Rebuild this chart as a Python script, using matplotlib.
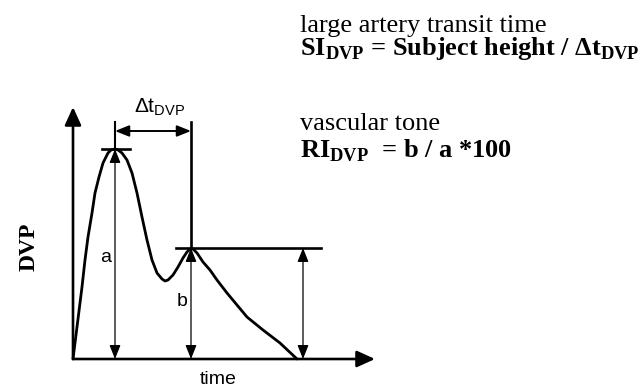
#!/usr/bin/env python3
"""DVP pulse waveform schematic with SI / RI definitions."""

import matplotlib

matplotlib.use("Agg")
import matplotlib.pyplot as plt

# digital volume pulse (time, amplitude)
curve_t = [0, 9, 12, 15, 19, 22, 26, 30, 35, 38, 42, 45, 49, 54, 59, 64, 69, 74, 79, 84,
           89, 92, 95, 100, 105, 110, 114, 117, 120, 124, 130, 137, 144, 154, 164, 174,
           190, 207, 224]
curve_v = [0, 72, 99, 122, 146, 166, 182, 196, 206, 209, 210, 209, 206, 199, 186, 166, 142,
           119, 99, 86, 80, 78, 79, 84, 92, 101, 107, 110, 110, 106, 97, 89, 79, 66, 54, 42,
           29, 16, 0]

peak_a = (42, 210)      # systolic peak
peak_b = (118, 111)     # diastolic peak / inflection
axis_top = 252
axis_right = 302
dt_level = 228
bracket_top = 237

SANS = "Liberation Sans"
SERIF = "Liberation Serif"


def arrow(ax, p0, p1, style, lw, scale):
    ax.annotate("", xy=p1, xytext=p0,
                arrowprops=dict(arrowstyle=style, lw=lw, color="black", fc="black",
                                shrinkA=0, shrinkB=0, mutation_scale=scale))


def main():
    fig = plt.figure(figsize=(6.44, 3.87), dpi=100)
    ax = fig.add_axes([0, 0, 1, 1])
    ax.set_xlim(-73, 571)
    ax.set_ylim(-28, 359)
    ax.axis("off")

    thick = 1.9
    thin = 0.9
    head_big = "-|>,head_length=0.55,head_width=0.25"
    head_small = "<|-|>,head_length=0.7,head_width=0.28"

    # axes
    arrow(ax, (0, 0), (0, axis_top), head_big, thick, 20)
    arrow(ax, (0, 0), (axis_right, 0), head_big, thick, 20)

    # waveform
    ax.plot(curve_t, curve_v, color="black", lw=2.0, solid_joinstyle="round",
            solid_capstyle="round")

    ta, va = peak_a
    tb, vb = peak_b

    # amplitude a
    arrow(ax, (ta, 0), (ta, va), head_small, thin, 12)
    ax.plot([ta - 13, ta + 15], [va, va], color="black", lw=thick)
    ax.plot([ta, ta], [va, bracket_top], color="black", lw=1.5)

    # amplitude b
    arrow(ax, (tb, 0), (tb, vb), head_small, thin, 12)
    ax.plot([tb - 15, tb + 130], [vb, vb], color="black", lw=thick)
    ax.plot([tb, tb], [vb, bracket_top], color="black", lw=thick)
    arrow(ax, (tb + 112, 0), (tb + 112, vb), head_small, thin, 12)

    # transit time
    arrow(ax, (ta, dt_level), (tb, dt_level), head_small, 1.4, 12)
    ax.text(61, 247, "Δt$_\\mathregular{DVP}$", family=SANS, fontsize=15,
            ha="left", va="baseline")

    ax.text(33, 102, "a", family=SANS, fontsize=14, ha="center", va="center")
    ax.text(109, 57, "b", family=SANS, fontsize=14, ha="center", va="center")
    ax.text(145, -20, "time", family=SANS, fontsize=14, ha="center", va="center")
    ax.text(-44, 112, "DVP", family=SERIF, fontsize=17, fontweight="bold",
            rotation=90, ha="center", va="center")

    # definitions
    ax.text(227, 327, "large artery transit time", family=SERIF, fontsize=19,
            ha="left", va="baseline")
    ax.text(227, 304, "SI$_\\mathregular{DVP}$ = Subject height / Δt$_\\mathregular{DVP}$",
            family=SERIF, fontsize=19, fontweight="bold", ha="left", va="baseline")
    ax.text(227, 229, "vascular tone", family=SERIF, fontsize=19,
            ha="left", va="baseline")
    ax.text(227, 202, "RI$_\\mathregular{DVP}$  = b / a *100", family=SERIF,
            fontsize=19, fontweight="bold", ha="left", va="baseline")

    fig.savefig("out.png", dpi=100)
    plt.close(fig)


if __name__ == "__main__":
    main()
